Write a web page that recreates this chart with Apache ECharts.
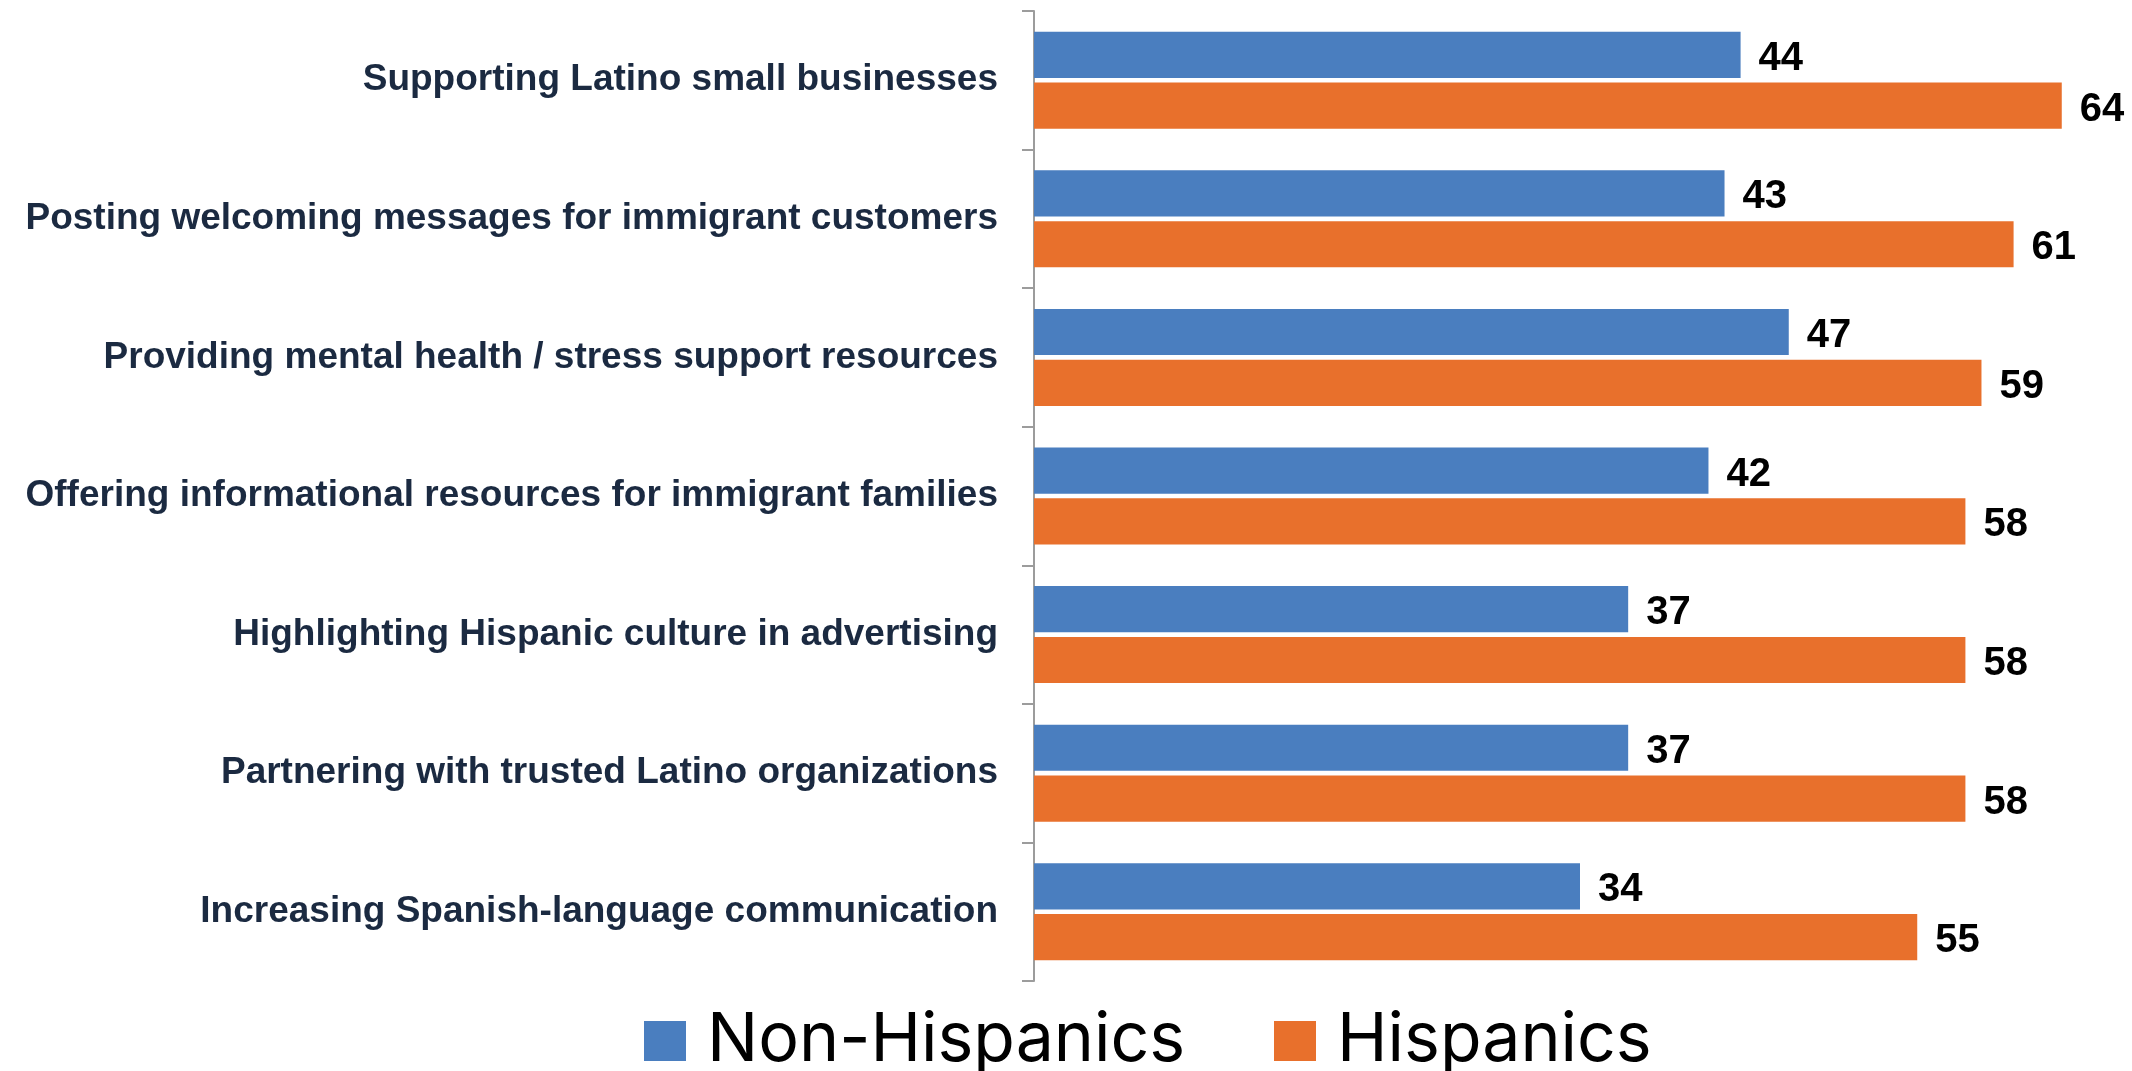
<!DOCTYPE html>
<html>
<head>
<meta charset="utf-8">
<title>Business actions by ethnicity</title>
<script src="https://cdn.jsdelivr.net/npm/echarts@6/dist/echarts.min.js"></script>
<style>
  html, body { margin: 0; padding: 0; background: #ffffff; }
  #chart { width: 2132px; height: 1071px; }
</style>
</head>
<body>
<div id="chart"></div>
<script>
// Categories, top to bottom
const categories = [
  'Supporting Latino small businesses',
  'Posting welcoming messages for immigrant customers',
  'Providing mental health / stress support resources',
  'Offering informational resources for immigrant families',
  'Highlighting Hispanic culture in advertising',
  'Partnering with trusted Latino organizations',
  'Increasing Spanish-language communication'
];

// Percent values per group
const nonHispanics = [44, 43, 47, 42, 37, 37, 34];
const hispanics = [64, 61, 59, 58, 58, 58, 55];

const seriesNames = ['Non-Hispanics', 'Hispanics'];
const colors = ['#4A7EBF', '#E8702C'];

const chart = echarts.init(document.getElementById('chart'));

const valueLabel = {
  show: true,
  position: 'right',
  distance: 18,
  offset: [0, 4],
  color: '#000000',
  fontFamily: 'Liberation Sans, Arial, sans-serif',
  fontWeight: 'bold',
  fontSize: 40
};

const legendText = {
  color: '#000000',
  fontFamily: 'Inter, Liberation Sans, sans-serif',
  fontSize: 68,
  lineHeight: 66,
  padding: [0, 0, 0, 16]
};

chart.setOption({
  animation: false,
  backgroundColor: '#ffffff',
  grid: { left: 1034, right: 6, top: 11, bottom: 90, containLabel: false },
  legend: [
    {
      data: [seriesNames[0]],
      left: 644, top: 1007,
      padding: 0,
      itemWidth: 42, itemHeight: 40,
      icon: 'rect',
      textStyle: legendText
    },
    {
      data: [seriesNames[1]],
      left: 1274, top: 1007,
      padding: 0,
      itemWidth: 42, itemHeight: 40,
      icon: 'rect',
      textStyle: legendText
    }
  ],
  xAxis: {
    type: 'value',
    min: 0,
    max: 68,
    show: false
  },
  yAxis: {
    type: 'category',
    data: categories,
    inverse: true,
    axisLine: { show: true, lineStyle: { color: '#9c9c9c', width: 2 } },
    axisTick: { show: true, length: 12, lineStyle: { color: '#9c9c9c', width: 2 } },
    axisLabel: {
      margin: 36,
      padding: [6, 0, 0, 0],
      color: '#1b2a41',
      fontFamily: 'Liberation Sans, Arial, sans-serif',
      fontWeight: 'bold',
      fontSize: 37
    },
    splitLine: { show: false }
  },
  series: [
    {
      name: seriesNames[0],
      type: 'bar',
      data: nonHispanics,
      itemStyle: { color: colors[0] },
      barGap: '10%',
      barCategoryGap: '30%',
      label: valueLabel
    },
    {
      name: seriesNames[1],
      type: 'bar',
      data: hispanics,
      itemStyle: { color: colors[1] },
      barGap: '10%',
      barCategoryGap: '30%',
      label: valueLabel
    }
  ]
});
</script>
</body>
</html>
